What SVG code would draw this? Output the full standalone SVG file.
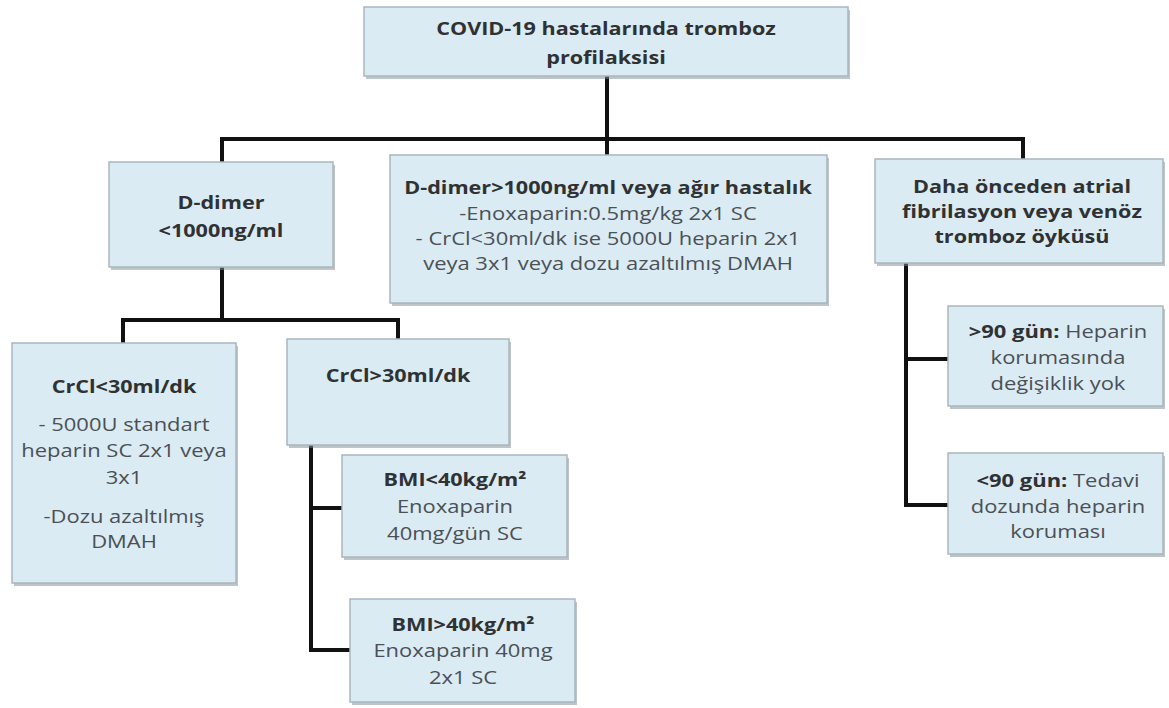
<svg xmlns="http://www.w3.org/2000/svg" width="1169" height="708" viewBox="0 0 1169 708">
<style>
.box{fill:#dbebf3;stroke:#a9b6be;stroke-width:1.5}
.sh{fill:#7f8a91;opacity:0.5}
.b{font-family:"Open Sans","Liberation Sans",sans-serif;font-weight:bold;font-size:18px;fill:#2f3133;text-anchor:middle}
.r{font-family:"Open Sans","Liberation Sans",sans-serif;font-size:18.3px;fill:#4a5055;text-anchor:middle}
.rb{font-weight:bold;fill:#2f3133}
.con{fill:none;stroke:#111;stroke-width:4;stroke-linecap:square}
</style>
<rect width="1169" height="708" fill="#fff"/>
<g id="connectors" class="con">
<path d="M607 76 V155"/>
<path d="M222 139 H1023"/>
<path d="M222 139 V162"/>
<path d="M1023 139 V159"/>
<path d="M222 267 V320"/>
<path d="M123 320 H398"/>
<path d="M123 320 V343"/>
<path d="M398 320 V339"/>
<path d="M311 445 V650"/>
<path d="M311 508 H342"/>
<path d="M311 650 H350"/>
<path d="M906 263 V505"/>
<path d="M906 359 H948"/>
<path d="M906 505 H948"/>
</g>
<g id="n-title">
<rect class="sh" x="366" y="10" width="484" height="69"/>
<rect class="box" x="364" y="7" width="484" height="69"/>
<g transform="translate(606 0) scale(1.2 1)">
<text class="b" x="0" y="35" font-size="20">COVID-19 hastalarında tromboz</text>
<text class="b" x="0" y="64" font-size="20">profilaksisi</text>
</g>
</g>
<g id="n-ddimer-low">
<rect class="sh" x="111" y="165" width="224" height="105"/>
<rect class="box" x="109" y="162" width="224" height="105"/>
<g transform="translate(221 0) scale(1.2 1)">
<text class="b" x="0" y="209" font-size="18.7">D-dimer</text>
<text class="b" x="0" y="237" font-size="18.7">&lt;1000ng/ml</text>
</g>
</g>
<g id="n-ddimer-high">
<rect class="sh" x="392" y="158" width="437" height="148"/>
<rect class="box" x="390" y="155" width="437" height="148"/>
<g transform="translate(608 0) scale(1.2 1)">
<text class="b" x="0" y="194" font-size="17.1">D-dimer&gt;1000ng/ml veya ağır hastalık</text>
<text class="r" x="0" y="220">-Enoxaparin:0.5mg/kg 2x1 SC</text>
<text class="r" x="0" y="245">- CrCl&lt;30ml/dk ise 5000U heparin 2x1</text>
<text class="r" x="0" y="270">veya 3x1 veya dozu azaltılmış DMAH</text>
</g>
</g>
<g id="n-history">
<rect class="sh" x="877" y="162" width="288" height="104"/>
<rect class="box" x="875" y="159" width="288" height="104"/>
<g transform="translate(1022 0) scale(1.2 1)">
<text class="b" x="0" y="193">Daha önceden atrial</text>
<text class="b" x="0" y="218">fibrilasyon veya venöz</text>
<text class="b" x="0" y="243">tromboz öyküsü</text>
</g>
</g>
<g id="n-crcl-low">
<rect class="sh" x="14" y="346" width="224" height="240"/>
<rect class="box" x="12" y="343" width="224" height="240"/>
<g transform="translate(124 0) scale(1.2 1)">
<text class="b" x="0" y="393" font-size="18.3">CrCl&lt;30ml/dk</text>
<text class="r" x="0" y="431">- 5000U standart</text>
<text class="r" x="0" y="457">heparin SC 2x1 veya</text>
<text class="r" x="0" y="484">3x1</text>
<text class="r" x="0" y="523">-Dozu azaltılmış</text>
<text class="r" x="0" y="548">DMAH</text>
</g>
</g>
<g id="n-crcl-high">
<rect class="sh" x="289" y="342" width="222" height="106"/>
<rect class="box" x="287" y="339" width="222" height="106"/>
<g transform="translate(398 0) scale(1.2 1)">
<text class="b" x="0" y="382" font-size="18.3">CrCl&gt;30ml/dk</text>
</g>
</g>
<g id="n-bmi-low">
<rect class="sh" x="344" y="458" width="225" height="102"/>
<rect class="box" x="342" y="455" width="225" height="102"/>
<g transform="translate(455 0) scale(1.2 1)">
<text class="b" x="0" y="486">BMI&lt;40kg/m²</text>
<text class="r" x="0" y="513">Enoxaparin</text>
<text class="r" x="0" y="540">40mg/gün SC</text>
</g>
</g>
<g id="n-bmi-high">
<rect class="sh" x="352" y="602" width="225" height="103"/>
<rect class="box" x="350" y="599" width="225" height="103"/>
<g transform="translate(463 0) scale(1.2 1)">
<text class="b" x="0" y="631">BMI&gt;40kg/m²</text>
<text class="r" x="0" y="657">Enoxaparin 40mg</text>
<text class="r" x="0" y="684">2x1 SC</text>
</g>
</g>
<g id="n-gt90">
<rect class="sh" x="950" y="309" width="215" height="100"/>
<rect class="box" x="948" y="306" width="215" height="100"/>
<g transform="translate(1058 0) scale(1.2 1)">
<text class="r" x="0" y="338"><tspan class="rb">&gt;90 gün:</tspan> Heparin</text>
<text class="r" x="0" y="364">korumasında</text>
<text class="r" x="0" y="390">değişiklik yok</text>
</g>
</g>
<g id="n-lt90">
<rect class="sh" x="950" y="456" width="215" height="101"/>
<rect class="box" x="948" y="453" width="215" height="101"/>
<g transform="translate(1058 0) scale(1.2 1)">
<text class="r" x="0" y="487"><tspan class="rb">&lt;90 gün:</tspan> Tedavi</text>
<text class="r" x="0" y="513">dozunda heparin</text>
<text class="r" x="0" y="538">koruması</text>
</g>
</g>
</svg>
